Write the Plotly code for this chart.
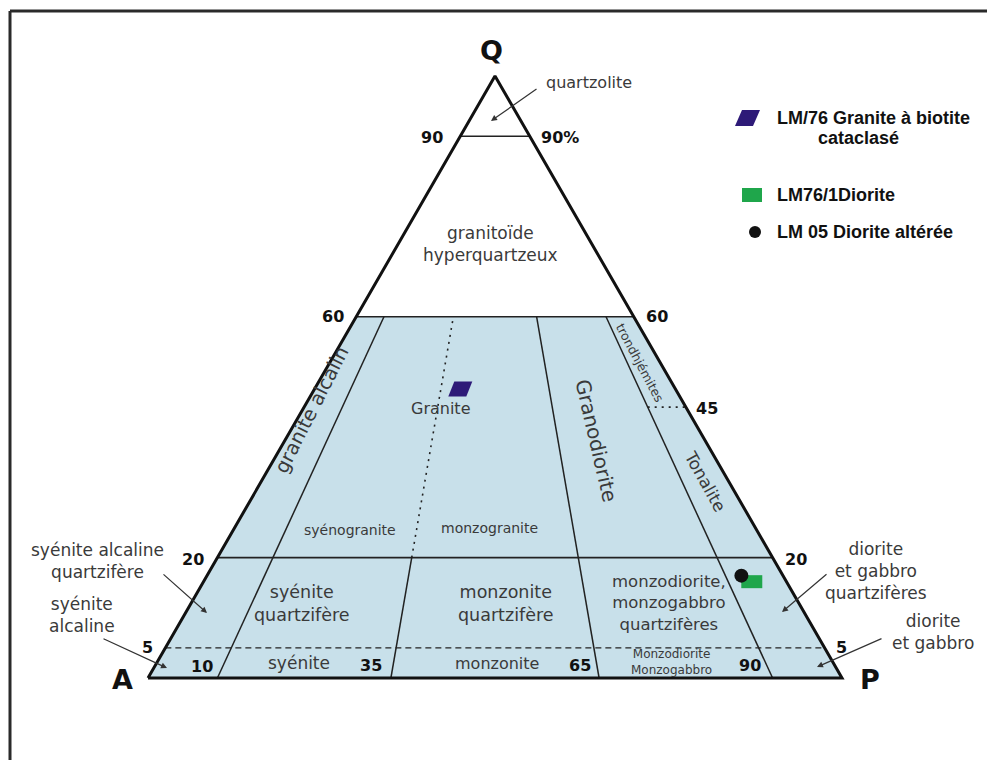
import plotly.graph_objects as go

# Diagramme QAP (Streckeisen) : limites des champs
q_levels = [90, 60, 20]        # limites horizontales pleines (Q %)
q_dashed = 5                   # limite en tirets
ratios_solid = [10, 65, 90]    # 100*P/(A+P), de Q=0 a Q=60
ratio_split = 35               # plein jusqu'a Q=20, pointille au-dessus
q_trond = 45                   # trondhjemites / tonalite

# echantillons (Q, A, P en %)
sample_names = ["LM/76 Granite à biotite cataclasé", "LM76/1Diorite", "LM 05 Diorite altérée"]
sample_q = [48, 16, 17]
sample_a = [31, 5, 6]
sample_p = [21, 79, 77]
sample_colors = ["#2e1a78", "#1fa64b", "#111111"]

W, H = 995, 760
OFF = 8              # marge du <body> de la page
X0, XS = 148, 6.94   # pixel du sommet A, pixels par %
Y0, YS = 678, 6.02

FILL = "#c8e0ea"
LINE = "#222222"
TXT = "#3a3a3a"
FONT = "DejaVu Sans"


def xy(q, p):
    return p + q / 2.0, q


def on_ratio(r, q):
    return xy(q, r * (100 - q) / 100.0)


def d(px, py):
    # position pixel (image) -> coordonnees des axes
    return (px - X0) / XS, (Y0 - py) / YS


def pp(px, py):
    return (px - OFF) / W, 1 - (py - OFF) / H


fig = go.Figure()

# champ bleu Q <= 60
pts = [xy(0, 0), xy(0, 100), xy(60, 40), xy(60, 0), xy(0, 0)]
fig.add_trace(go.Scatter(x=[p[0] for p in pts], y=[p[1] for p in pts], mode="lines",
                         fill="toself", fillcolor=FILL, line=dict(width=0), hoverinfo="skip"))


def seg(a, b, width=1.5, dash="solid", color=LINE):
    fig.add_trace(go.Scatter(x=[a[0], b[0]], y=[a[1], b[1]], mode="lines",
                             line=dict(color=color, width=width, dash=dash), hoverinfo="skip"))


for q in q_levels:
    seg(on_ratio(0, q), on_ratio(100, q), width=1.6)
seg(on_ratio(0, q_dashed), on_ratio(100, q_dashed), width=1.3, dash="6px,4px")

for r in ratios_solid:
    seg(on_ratio(r, 0), on_ratio(r, 60), width=1.5)
seg(on_ratio(ratio_split, 0), on_ratio(ratio_split, 20), width=1.5)
seg(on_ratio(ratio_split, 20), on_ratio(ratio_split, 60), width=1.6, dash="2px,5px")
seg(on_ratio(90, q_trond), on_ratio(100, q_trond), width=1.6, dash="2px,5px")

# contour du triangle
tri = [xy(0, 0), xy(0, 100), xy(100, 0), xy(0, 0)]
fig.add_trace(go.Scatter(x=[p[0] for p in tri], y=[p[1] for p in tri], mode="lines",
                         line=dict(color="#111111", width=3), hoverinfo="skip"))

# echantillons
sx, sy = [], []
for q, a, p in zip(sample_q, sample_a, sample_p):
    s = q + a + p
    x, y = xy(100 * q / s, 100 * p / s)
    sx.append(x)
    sy.append(y)

para = [(-6, -7.5), (12, -7.5), (6, 7.5), (-12, 7.5), (-6, -7.5)]
fig.add_trace(go.Scatter(x=[sx[0] + dx / XS for dx, dy in para], y=[sy[0] - dy / YS for dx, dy in para],
                         mode="lines", fill="toself", fillcolor=sample_colors[0],
                         line=dict(width=0), name=sample_names[0]))
rect = [(-10.5, -6.5), (10.5, -6.5), (10.5, 6.5), (-10.5, 6.5), (-10.5, -6.5)]
fig.add_trace(go.Scatter(x=[sx[1] + dx / XS for dx, dy in rect], y=[sy[1] - dy / YS for dx, dy in rect],
                         mode="lines", fill="toself", fillcolor=sample_colors[1],
                         line=dict(width=0), name=sample_names[1]))
fig.add_trace(go.Scatter(x=[sx[2]], y=[sy[2]], mode="markers", name=sample_names[2],
                         marker=dict(symbol="circle", size=14, color=sample_colors[2])))

# textes : (texte, px, py, taille, gras, angle)
labels = [
    ("Q", 491, 50, 27, True, 0),
    ("A", 122, 679, 27, True, 0),
    ("P", 870, 679, 27, True, 0),
    ("quartzolite", 589, 82, 16, False, 0),
    ("90", 432, 137, 16, True, 0),
    ("90%", 560, 137, 16, True, 0),
    ("granitoïde<br>hyperquartzeux", 490, 244, 17, False, 0),
    ("60", 333, 316, 16, True, 0),
    ("60", 657, 316, 16, True, 0),
    ("45", 707, 408, 16, True, 0),
    ("20", 193, 559, 16, True, 0),
    ("20", 796, 559, 16, True, 0),
    ("5", 147, 647, 16, True, 0),
    ("5", 841, 647, 16, True, 0),
    ("10", 202, 666, 16, True, 0),
    ("35", 371, 665, 16, True, 0),
    ("65", 580, 665, 16, True, 0),
    ("90", 750, 665, 16, True, 0),
    ("Granite", 440, 408, 16, False, 0),
    ("granite alcalin", 311, 410, 19.5, False, -63),
    ("Granodiorite", 596, 440, 20, False, 77),
    ("Tonalite", 705, 481, 17, False, 61),
    ("trondhjémites", 640, 362, 12.5, False, 62),
    ("syénogranite", 350, 530, 14, False, 0),
    ("monzogranite", 489, 528, 14, False, 0),
    ("syénite<br>quartzifère", 302, 603, 17.5, False, 0),
    ("monzonite<br>quartzifère", 506, 603, 17.5, False, 0),
    ("monzodiorite,<br>monzogabbro<br>quartzifères", 669, 603, 16.5, False, 0),
    ("syénite", 299, 663, 17, False, 0),
    ("monzonite", 497, 663, 16, False, 0),
    ("Monzodiorite<br>Monzogabbro", 671, 662, 12, False, 0),
    ("syénite alcaline<br>quartzifère", 97, 561, 17, False, 0),
    ("syénite<br>alcaline", 82, 615, 17, False, 0),
    ("diorite<br>et gabbro<br>quartzifères", 876, 571, 17, False, 0),
    ("diorite<br>et gabbro", 933, 632, 17, False, 0),
]

annotations = []
for text, px, py, size, bold, ang in labels:
    x, y = d(px, py)
    annotations.append(dict(
        x=x, y=y, xref="x", yref="y", text=text, showarrow=False,
        xanchor="center", yanchor="middle", textangle=ang, align="center",
        font=dict(family=FONT, size=size, color="#111111" if bold else TXT,
                  weight="bold" if bold else "normal")))

# fleches : (queue px, py, tete px, py)
arrows = [
    (538, 88, 491, 121),
    (162, 573, 207, 613),
    (102, 638, 167, 668),
    (828, 573, 782, 612),
    (883, 638, 817, 667),
]
for tx, ty, hx, hy in arrows:
    x, y = d(hx, hy)
    ax, ay = d(tx, ty)
    annotations.append(dict(
        x=x, y=y, ax=ax, ay=ay, xref="x", yref="y", axref="x", ayref="y",
        text="", showarrow=True, arrowhead=2, arrowsize=1, arrowwidth=1.2,
        arrowcolor="#333333", standoff=0))

# legende
LEG = dict(family="Liberation Sans", size=18, color="#111111", weight="bold")
for text, px, py, anchor in [
    ("LM/76 Granite à biotite", 775, 118, "left"),
    ("cataclasé", 858, 138, "center"),
    ("LM76/1Diorite", 775, 195, "left"),
    ("LM 05 Diorite altérée", 775, 232, "left"),
]:
    x, y = pp(px, py)
    annotations.append(dict(x=x, y=y, xref="paper", yref="paper", text=text, showarrow=False,
                            xanchor=anchor, yanchor="middle", font=LEG))


def ppath(corners):
    parts = []
    for i, (px, py) in enumerate(corners):
        x, y = pp(px, py)
        parts.append(("M" if i == 0 else "L") + f"{x:.5f},{y:.5f}")
    return " ".join(parts) + " Z"


shapes = [
    # cadre
    dict(type="line", xref="paper", yref="paper", x0=pp(10, 11)[0], y0=pp(10, 11)[1],
         x1=pp(1005, 11)[0], y1=pp(1005, 11)[1], line=dict(color="#2a2a2a", width=3)),
    dict(type="line", xref="paper", yref="paper", x0=pp(10, 11)[0], y0=pp(10, 11)[1],
         x1=pp(10, 770)[0], y1=pp(10, 770)[1], line=dict(color="#2a2a2a", width=3)),
    # symboles de legende
    dict(type="path", xref="paper", yref="paper",
         path=ppath([(742, 110), (760, 110), (753, 126), (735, 126)]),
         fillcolor=sample_colors[0], line=dict(width=0)),
    dict(type="rect", xref="paper", yref="paper", x0=pp(742, 188)[0], y0=pp(742, 188)[1],
         x1=pp(762, 202)[0], y1=pp(762, 202)[1], fillcolor=sample_colors[1], line=dict(width=0)),
    dict(type="circle", xref="paper", yref="paper", x0=pp(749, 226)[0], y0=pp(749, 226)[1],
         x1=pp(761, 238)[0], y1=pp(761, 238)[1], fillcolor=sample_colors[2], line=dict(width=0)),
]

fig.update_layout(
    width=W, height=H,
    margin=dict(l=0, r=0, t=0, b=0, pad=0),
    paper_bgcolor="white", plot_bgcolor="white",
    showlegend=False,
    xaxis=dict(range=[(OFF - X0) / XS, (W + OFF - X0) / XS], visible=False, fixedrange=True),
    yaxis=dict(range=[(Y0 - H - OFF) / YS, (Y0 - OFF) / YS], visible=False, fixedrange=True),
    annotations=annotations,
    shapes=shapes,
)

fig.write_html("out.html")
